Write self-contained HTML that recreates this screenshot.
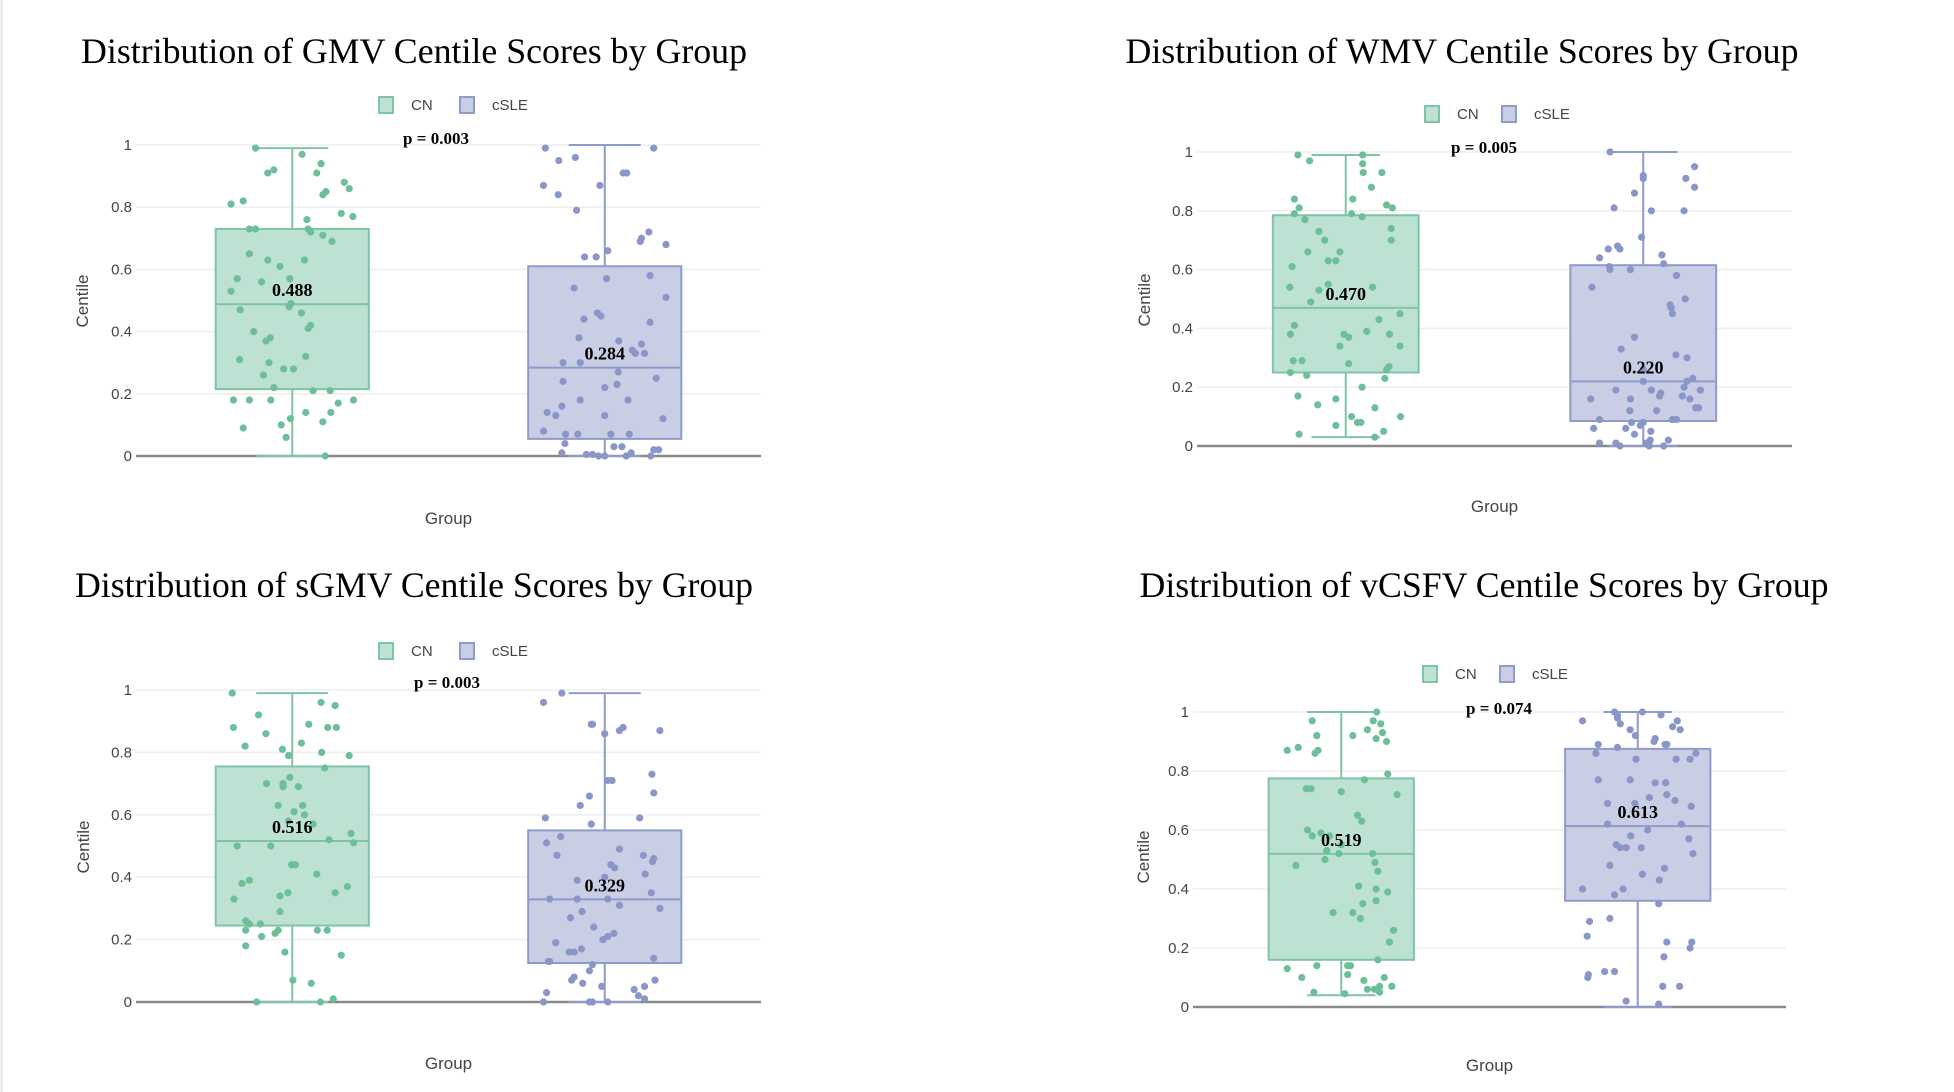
<!DOCTYPE html>
<html><head><meta charset="utf-8"><style>
html,body{margin:0;padding:0;background:#fff;}
svg{display:block;}
</style></head><body>
<svg id="chart" width="1954" height="1092" xmlns="http://www.w3.org/2000/svg">
<rect x="0" y="0" width="1954" height="1092" fill="#fff"/>
<line x1="1.5" y1="0" x2="1.5" y2="1092" stroke="#e6e6e6" stroke-width="2"/>
</svg>
<script>
const groups = ["CN","cSLE"];
const yTicks = [0,0.2,0.4,0.6,0.8,1];
const yTickLabels = ["0","0.2","0.4","0.6","0.8","1"];
const titles = ["Distribution of GMV Centile Scores by Group","Distribution of WMV Centile Scores by Group","Distribution of sGMV Centile Scores by Group","Distribution of vCSFV Centile Scores by Group"];
const pLabels = ["p = 0.003","p = 0.005","p = 0.003","p = 0.074"];
// box stats [lowerWhisker, q1, median, q3, upperWhisker]
const boxCN = [[0,0.215,0.488,0.73,0.99],[0.03,0.25,0.470,0.785,0.99],[0,0.245,0.516,0.755,0.99],[0.04,0.16,0.519,0.775,1]];
const boxCSLE = [[0,0.055,0.284,0.61,1],[0,0.085,0.220,0.615,1],[0,0.125,0.329,0.55,0.99],[0,0.36,0.613,0.875,1]];
const medianLabels = [["0.488","0.284"],["0.470","0.220"],["0.516","0.329"],["0.519","0.613"]];
// points: value, jitter pairs
const ptsCN1 = [.99,-.6,.97,.16,.94,.47,.92,-.3,.91,-.4,.91,.4,.88,.85,.86,.93,.85,.55,.84,.5,.81,-1,.82,-.8,.78,.8,.77,.99,.76,.24,.73,-.7,.73,-.6,.73,.26,.72,.3,.71,.5,.69,.65,.65,-.7,.63,.2,.63,-.4,.61,-.2,.57,-.9,.56,-.5,.57,-.04,.53,-1,.49,-.02,.48,-.05,.47,-.85,.46,.15,.42,.3,.41,.26,.40,-.63,.38,-.36,.37,-.43,.32,.22,.31,-.86,.30,-.38,.28,-.14,.28,.02,.26,-.47,.22,-.3,.21,.34,.21,.62,.18,-.96,.18,-.7,.18,-.35,.17,.75,.18,1,.14,.22,.14,.63,.12,-.03,.10,-.18,.11,.5,.09,-.8,.06,-.1,0,.54];
const ptsCSLE1 = [.99,-.97,.99,.8,.95,-.75,.96,-.48,.87,-1,.84,-.76,.87,-.08,.91,.3,.91,.36,.79,-.46,.72,.72,.70,.6,.69,.58,.68,1,.66,.05,.64,-.33,.64,-.14,.57,.03,.58,.74,.54,-.5,.51,1,.46,-.12,.45,-.06,.44,-.34,.43,.74,.38,-.42,.37,.23,.36,.6,.34,.45,.33,.5,.33,.65,.30,-.68,.30,-.4,.27,.22,.25,.84,.24,-.68,.23,.2,.22,0,.18,.38,.18,-.4,.16,-.7,.14,-.94,.13,-.8,.13,0,.12,.95,.08,-1,.07,-.64,.07,-.44,.07,.1,.07,.4,.04,-.65,.03,.15,.03,.28,.02,.8,.02,.88,.01,-.7,.005,-.3,.005,-.2,0,-.1,0,0,0,.35,0,.75,.01,.43];
const ptsCN2 = [.99,-.82,.97,-.62,.99,.29,.96,.29,.93,.3,.93,.62,.88,.44,.84,-.88,.84,.12,.82,.7,.81,.8,.81,-.8,.79,-.88,.79,.1,.78,.28,.77,-.7,.74,.78,.73,-.46,.70,-.36,.70,.78,.66,-.65,.66,-.1,.63,-.3,.63,-.17,.61,-.92,.55,-.3,.54,-.96,.53,-.46,.54,.46,.49,-.6,.45,.93,.43,.57,.41,-.88,.39,.36,.38,-.95,.38,.75,.38,-.03,.37,.05,.34,.93,.34,-.1,.29,-.9,.29,-.75,.28,.05,.27,.74,.26,.7,.25,-.95,.24,-.67,.23,.67,.20,.28,.17,-.82,.16,-.17,.14,-.48,.13,.5,.10,.1,.10,.94,.08,.2,.08,.26,.07,-.17,.05,.65,.04,-.8,.03,.5];
const ptsCSLE2 = [1,-.57,.95,.88,.92,0,.91,.73,.91,0,.88,.88,.86,-.15,.81,-.5,.80,.14,.80,.7,.71,-.03,.67,-.6,.68,-.44,.67,-.4,.65,.32,.64,-.75,.62,.35,.61,-.58,.60,-.57,.60,-.22,.58,.57,.54,-.88,.50,.72,.48,.46,.47,.48,.45,.5,.37,-.15,.33,-.38,.31,.56,.30,.75,.26,0,.23,.85,.22,.75,.22,0,.20,.7,.19,-.47,.19,.14,.19,.98,.18,.3,.17,.28,.17,.67,.16,-.9,.16,-.22,.16,.8,.13,.9,.13,.95,.12,-.23,.12,.23,.09,-.75,.09,.5,.09,.57,.08,0,.08,-.2,.07,-.05,.06,-.85,.06,-.3,.05,.13,.04,-.15,.02,.43,.01,-.75,.01,-.47,.01,.05,.01,.1,0,.1,0,.35,0,-.4,.02,.12];
const ptsCN3 = [.99,-.98,.96,.47,.95,.7,.92,-.55,.88,-.96,.89,.27,.88,.58,.88,.72,.86,-.43,.82,-.77,.83,.15,.81,-.16,.79,-.06,.80,.48,.79,.93,.75,.53,.72,-.04,.70,-.42,.70,-.15,.69,-.15,.69,.1,.63,-.23,.61,.03,.63,.17,.60,.2,.58,-.06,.57,.34,.54,.96,.52,.6,.51,1,.50,-.9,.50,-.35,.44,-.01,.44,.05,.41,.4,.39,-.7,.38,-.82,.37,.9,.35,-.07,.34,-.2,.35,.7,.33,-.95,.29,-.2,.26,-.76,.25,-.7,.25,-.52,.23,-.76,.23,.41,.23,.57,.23,-.23,.22,-.28,.21,-.5,.18,-.76,.16,-.12,.15,.8,.07,.01,.06,.31,0,-.58,0,.46,.01,.67];
const ptsCSLE3 = [.99,-.7,.96,-1,.89,-.22,.89,-.2,.88,.3,.87,.24,.86,0,.87,.9,.73,.77,.71,.05,.71,.12,.67,.8,.66,-.25,.63,-.4,.59,-.97,.59,.57,.57,-.22,.53,-.72,.51,-.95,.49,.24,.47,-.78,.47,.63,.46,.8,.45,.78,.44,.1,.43,.16,.41,.66,.40,0,.39,-.45,.35,.76,.33,-.9,.33,-.45,.33,.05,.31,.24,.30,.9,.29,-.37,.27,-.56,.24,-.18,.22,.15,.21,.05,.20,-.03,.19,-.8,.17,-.38,.16,-.58,.16,-.5,.14,.8,.13,-.9,.13,-.92,.12,-.2,.10,-.25,.08,-.5,.07,-.54,.06,-.36,.05,-.05,.04,.48,.05,.65,.07,.82,.03,-.95,.02,.55,.01,.65,0,-1,0,-.25,0,-.2,0,.05];
const ptsCN4 = [1,.61,.97,-.5,.97,.55,.96,.68,.94,.45,.93,.71,.92,-.42,.92,.2,.91,.6,.90,.78,.87,-.93,.88,-.74,.86,-.45,.87,-.4,.79,.8,.77,.4,.74,-.6,.74,-.52,.73,0,.72,.96,.65,.28,.63,.35,.60,-.58,.59,-.35,.58,-.5,.58,-.2,.55,0,.53,-.25,.52,-.04,.52,.54,.50,-.28,.49,.58,.48,-.78,.46,.63,.41,.3,.40,.6,.39,.8,.36,.6,.35,.37,.32,-.14,.32,.2,.30,.33,.26,.9,.22,.83,.16,.63,.13,-.93,.14,-.42,.14,.11,.14,.16,.11,.11,.10,-.68,.10,.74,.09,.39,.07,.87,.07,.66,.06,.45,.06,.57,.05,.66,.05,-.47,.045,.06];
const ptsCSLE4 = [1,-.4,1,.08,.99,-.35,.98,-.35,.99,.4,.97,-.95,.97,.68,.96,-.3,.95,.6,.94,-.13,.94,.73,.92,-.04,.91,.3,.90,.28,.89,.5,.89,.47,.89,-.68,.88,-.35,.86,-.72,.86,1,.84,.66,.84,-.03,.84,.9,.77,-.68,.77,-.13,.76,.3,.76,.48,.72,.5,.71,.2,.70,.64,.69,-.52,.69,-.05,.68,.92,.62,-.52,.62,.75,.60,.17,.58,-.12,.57,.88,.55,-.37,.54,.06,.54,-.2,.54,-.3,.52,.95,.48,-.48,.47,.46,.45,.08,.43,.37,.40,-.95,.40,-.25,.38,-.4,.35,.36,.29,-.83,.30,-.48,.24,-.87,.22,.5,.22,.93,.20,.9,.17,.45,.12,-.57,.12,-.4,.11,-.85,.10,-.86,.07,.43,.07,.72,.02,-.2,.01,.36];

const ptsCN = [ptsCN1,ptsCN2,ptsCN3,ptsCN4];
const ptsCSLE = [ptsCSLE1,ptsCSLE2,ptsCSLE3,ptsCSLE4];

const layouts = [
 {L:136,R:761,T:145,B:456,tx:414,ty:63,tw:666,lgx:378,lgx2:459,lgy:105,px:436,py:138,gy:518,cx:76,cy:301},
 {L:1197,R:1792,T:152,B:446,tx:1462,ty:63,tw:673,lgx:1424,lgx2:1501,lgy:114,px:1484,py:147,gy:506,cx:1138,cy:300},
 {L:136,R:761,T:690,B:1002,tx:414,ty:597,tw:678,lgx:378,lgx2:459,lgy:651,px:447,py:682,gy:1063,cx:77,cy:847},
 {L:1193,R:1786,T:712,B:1007,tx:1484,ty:597,tw:689,lgx:1422,lgx2:1499,lgy:674,px:1499,py:708,gy:1065,cx:1137,cy:857}
];
const colors = {CN:{stroke:"#7fc4a5",fill:"#bde1d3",pt:"#6dbf98"},cSLE:{stroke:"#8f9bcb",fill:"#c9cee4",pt:"#8a96c8"}};
const svg = document.getElementById('chart');
const NS = "http://www.w3.org/2000/svg";
function mk(tag, attrs, parent){const e=document.createElementNS(NS,tag);for(const k in attrs)e.setAttribute(k,attrs[k]);(parent||svg).appendChild(e);return e;}

layouts.forEach((lay,pi)=>{
  const g = mk('g',{});
  
  
  const yS = v => lay.B - v*(lay.B-lay.T);
  const xS = gi => lay.L + (gi*0.5+0.25)*(lay.R-lay.L);
  const boxW = 0.245*(lay.R-lay.L);
  const t = mk('text',{x:lay.tx,y:lay.ty,'text-anchor':'middle','font-family':'Liberation Serif, serif','font-size':36,fill:'#000',textLength:lay.tw,lengthAdjust:'spacingAndGlyphs'},g);
  t.textContent = titles[pi];
  
  
  yTicks.forEach((v,i)=>{
    if(v>0){const gl=mk('line',{x1:lay.L,x2:lay.R,y1:yS(v),y2:yS(v),stroke:'#eeeeee','stroke-width':1.5},g);
      
      }
    const tl=mk('text',{x:lay.L-4,y:yS(v)+5,'text-anchor':'end','font-family':'Liberation Sans, sans-serif','font-size':15,fill:'#444'},g);
    tl.textContent=yTickLabels[i];
    
    
  });
  const zl=mk('line',{x1:lay.L,x2:lay.R,y1:yS(0),y2:yS(0),stroke:'#8a8a8a','stroke-width':2.5},g);
  
  
  groups.forEach((gn,gi)=>{
    const c=colors[gn]; const st=(gi==0?boxCN:boxCSLE)[pi]; const cx=xS(gi);
    const bg=mk('g',{},g);
    
    
    mk('line',{x1:cx,x2:cx,y1:yS(st[0]),y2:yS(st[1]),stroke:c.stroke,'stroke-width':2},bg);
    mk('line',{x1:cx,x2:cx,y1:yS(st[3]),y2:yS(st[4]),stroke:c.stroke,'stroke-width':2},bg);
    mk('line',{x1:cx-boxW*0.235,x2:cx+boxW*0.235,y1:yS(st[0]),y2:yS(st[0]),stroke:c.stroke,'stroke-width':2},bg);
    mk('line',{x1:cx-boxW*0.235,x2:cx+boxW*0.235,y1:yS(st[4]),y2:yS(st[4]),stroke:c.stroke,'stroke-width':2},bg);
    mk('rect',{x:cx-boxW/2,y:yS(st[3]),width:boxW,height:yS(st[1])-yS(st[3]),fill:c.fill,stroke:c.stroke,'stroke-width':2},bg);
    mk('line',{x1:cx-boxW/2,x2:cx+boxW/2,y1:yS(st[2]),y2:yS(st[2]),stroke:c.stroke,'stroke-width':2},bg);
    const pts=(gi==0?ptsCN:ptsCSLE)[pi];
    for(let k=0;k<pts.length;k+=2){
      const p=mk('circle',{cx:cx+pts[k+1]*boxW*0.4,cy:yS(pts[k]),r:3.6,fill:c.pt},bg);
      
      
    }
    const ml=mk('text',{x:cx,y:yS(st[2])-8,'text-anchor':'middle','font-family':'Liberation Serif, serif','font-weight':'bold','font-size':18,fill:'#000'},g);
    ml.textContent=medianLabels[pi][gi];
    
    
  });
  [[lay.lgx,'CN'],[lay.lgx2,'cSLE']].forEach(([lx,gn])=>{
    const c=colors[gn];
    const lg=mk('g',{},g);
    
    
    mk('rect',{x:lx+1,y:lay.lgy-8,width:14,height:16,fill:c.fill,stroke:c.stroke,'stroke-width':2},lg);
    const lt=mk('text',{x:lx+33,y:lay.lgy+5,'font-family':'Liberation Sans, sans-serif','font-size':15,fill:'#444'},lg);
    lt.textContent=gn;
  });
  const pt=mk('text',{x:lay.px,y:lay.py+6,'text-anchor':'middle','font-family':'Liberation Serif, serif','font-weight':'bold','font-size':17,fill:'#000'},g);
  pt.textContent=pLabels[pi];
  
  
  const xt=mk('text',{x:(lay.L+lay.R)/2,y:lay.gy+6,'text-anchor':'middle','font-family':'Liberation Sans, sans-serif','font-size':17,fill:'#444'},g);
  xt.textContent='Group';
  
  
  const yt=mk('text',{x:lay.cx+6,y:lay.cy+6,'text-anchor':'middle','font-family':'Liberation Sans, sans-serif','font-size':17,fill:'#444',transform:'rotate(-90 '+(lay.cx+6)+' '+lay.cy+')'},g);
  yt.textContent='Centile';
  
  
});
</script>
</body></html>
